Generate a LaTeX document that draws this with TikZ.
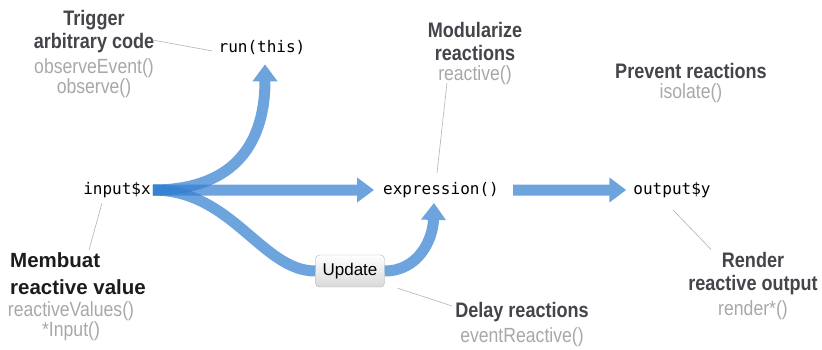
\documentclass[tikz,border=0pt]{standalone}
\usepackage{fontspec}
\setmainfont{Liberation Sans}
\setmonofont{DejaVu Sans Mono}
\newfontfamily\headfont[FakeStretch=0.86]{Liberation Sans}
\usetikzlibrary{arrows.meta,positioning}
\definecolor{flowblue}{RGB}{49,126,208}
\definecolor{headgray}{RGB}{68,68,74}
\definecolor{fungray}{RGB}{168,168,168}
\definecolor{darkhead}{RGB}{28,28,28}

\begin{document}
\begin{tikzpicture}[x=1pt,y=-1pt,
    flow/.style={line width=11pt, draw=flowblue, -{Triangle[width=24pt,length=17pt]}},
    glass/.style={transparency group, opacity=0.7},
    code/.style={font=\ttfamily\fontsize{16}{19}\selectfont, inner sep=2pt},
    head/.style={font=\headfont\bfseries\fontsize{21}{23}\selectfont, text=headgray, align=center, inner sep=1pt},
    fun/.style={font=\headfont\fontsize{20.5}{20}\selectfont, text=fungray, align=center, inner sep=1pt},
    leader/.style={draw=gray!60, line width=0.6pt},
    button/.style={draw=gray!60, rounded corners=4pt, top color=white, bottom color=gray!30,
      minimum width=69pt, minimum height=32pt, font=\fontsize{17}{20}\selectfont}]
  \useasboundingbox (0,0) rectangle (822,350);
  % Nodes kode
  \node[code] (input) at (117,190) {input\$x};
  \node[code] (expr) at (441,190) {expression()};
  \node[code] (output) at (672,190) {output\$y};
  \node[code] (run) at (262,47) {run(this)};
  \node[button] (update) at (350,271) {Update};
  % Alur reaktif
  \begin{scope}[glass]
    \draw[flow, shorten >=8pt] (input.east) .. controls (228,190) and (265,150) .. ([xshift=3pt]run.south);
  \end{scope}
  \begin{scope}[glass]
    \draw[flow, shorten >=7pt] (input.east) -- (expr.west);
  \end{scope}
  \begin{scope}[glass]
    \draw[flow, -] (input.east) .. controls (232,190) and (262,271) .. (update.west);
  \end{scope}
  \begin{scope}[glass]
    \draw[flow, shorten >=3pt] (update.east) .. controls (418,271) and (433,240) .. ([xshift=-7pt]expr.south);
  \end{scope}
  \begin{scope}[glass]
    \draw[flow, shorten <=12pt, shorten >=5pt] (expr.east) -- (output.west);
  \end{scope}
  % Keterangan atas
  \node[head] (trigger) at (94,32) {Trigger\\arbitrary code};
  \node[fun, below=3pt of trigger] (observe) {observeEvent()\\observe()};
  \node[head] (modular) at (475,41) {Modularize\\reactions};
  \node[fun, below=3pt of modular] (reactive) {reactive()};
  \node[head] (prevent) at (691,71) {Prevent reactions};
  \node[fun, below=3pt of prevent] (isolate) {isolate()};
  % Keterangan bawah
  \node[font=\bfseries\fontsize{20.5}{27}\selectfont, text=darkhead, align=left, anchor=north west, inner sep=1pt] (membuat) at (9,251) {Membuat\\reactive value};
  \node[fun, below=5pt of membuat, xshift=-7pt] (values) {reactiveValues()\\*Input()};
  \node[head] (delay) at (522,312) {Delay reactions};
  \node[fun, below=3pt of delay] (eventr) {eventReactive()};
  \node[head] (render) at (753,274) {Render\\reactive output};
  \node[fun, below=3pt of render] (renderf) {render*()};
  % Garis penunjuk
  \draw[leader] ([xshift=-3pt,yshift=-8pt]trigger.east) -- ([xshift=-4pt,yshift=-4pt]run.west);
  \draw[leader] ([xshift=-28pt,yshift=3pt]reactive.south) -- ([xshift=-4pt,yshift=7pt]expr.north);
  \draw[leader] ([xshift=-15pt,yshift=-3pt]input.south) -- ([xshift=11pt,yshift=1pt]membuat.north);
  \draw[leader] ([xshift=13pt,yshift=-1pt]update.south east) -- ([xshift=-2pt,yshift=6pt]delay.west);
  \draw[leader] ([xshift=1pt,yshift=-10pt]output.south) -- ([xshift=24pt,yshift=2pt]render.north west);
\end{tikzpicture}
\end{document}
